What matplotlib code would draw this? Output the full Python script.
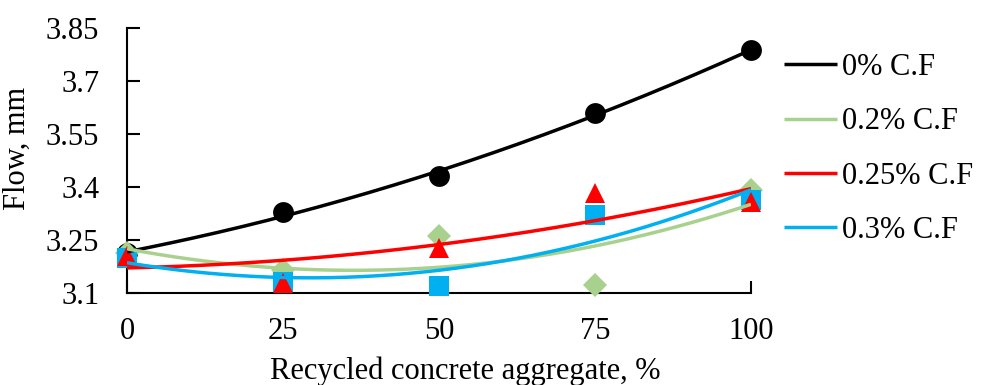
import numpy as np
import matplotlib
matplotlib.use("Agg")
import matplotlib.pyplot as plt

# Recycled concrete aggregate replacement levels (%)
rca = [0, 25, 50, 75, 100]

# Flow (mm) for each coconut fibre content
flow_0 = [3.213, 3.329, 3.431, 3.610, 3.787]
flow_02 = [3.213, 3.165, 3.260, 3.122, 3.392]
flow_025 = [3.205, 3.128, 3.227, 3.383, 3.358]
flow_03 = [3.200, 3.130, 3.120, 3.320, 3.363]

labels = ["0% C.F", "0.2% C.F", "0.25% C.F", "0.3% C.F"]
y_ticks = [3.1, 3.25, 3.4, 3.55, 3.7, 3.85]
y_tick_labels = ["3.1", "3.25", "3.4", "3.55", "3.7", "3.85"]
x_ticks = [0, 25, 50, 75, 100]

plt.rcParams["font.family"] = ["Liberation Serif", "DejaVu Serif"]

fig = plt.figure(figsize=(9.92, 3.85), dpi=100)
ax = fig.add_axes([127 / 992, 1 - 293 / 385, 624 / 992, 265 / 385])

series = [
    (flow_0, "black", "o", 15, 3),
    (flow_02, "#A9D18E", "D", 12, 4),
    (flow_025, "#FF0000", "^", 14, 6),
    (flow_03, "#00B0F0", "s", 14, 5),
]

xs = np.asarray(rca, dtype=float)
xfine = np.linspace(0, 100, 200)
handles = []
for (vals, color, marker, ms, z), lab in zip(series, labels):
    ax.plot(rca, vals, linestyle="none", marker=marker, markersize=ms,
            color=color, markeredgewidth=0, zorder=z, clip_on=False)
    # second-order polynomial trendline
    coeffs = np.polyfit(xs, np.asarray(vals), 2)
    h, = ax.plot(xfine, np.polyval(coeffs, xfine), color=color, lw=2.5,
                 zorder=7, label=lab, solid_capstyle="butt")
    handles.append(h)

ax.set_xlim(0, 100)
ax.set_ylim(3.1, 3.85)
ax.set_xticks(x_ticks)
ax.set_yticks(y_ticks)
ax.set_yticklabels(y_tick_labels)

for side in ("top", "right"):
    ax.spines[side].set_visible(False)
for side in ("left", "bottom"):
    ax.spines[side].set_linewidth(1.5)
    ax.spines[side].set_color("black")

ax.tick_params(axis="both", direction="in", length=9, width=1.5,
               labelsize=22, colors="black")
ax.tick_params(axis="y", pad=20)
ax.tick_params(axis="x", pad=17)

ax.set_xlabel("Recycled concrete aggregate, %", fontsize=22)
ax.xaxis.set_label_coords(0.542, -0.24)
ax.set_ylabel("Flow, mm", fontsize=22)
ax.yaxis.set_label_coords(-0.152, 0.545)

fig.legend(handles=handles, labels=labels, loc="upper left",
           bbox_to_anchor=(784 / 992, 1 - 53 / 385), frameon=False,
           fontsize=22, handlelength=1.75, handletextpad=0.15,
           labelspacing=0.83, borderaxespad=0, borderpad=0)

fig.savefig("out.png", dpi=100)
